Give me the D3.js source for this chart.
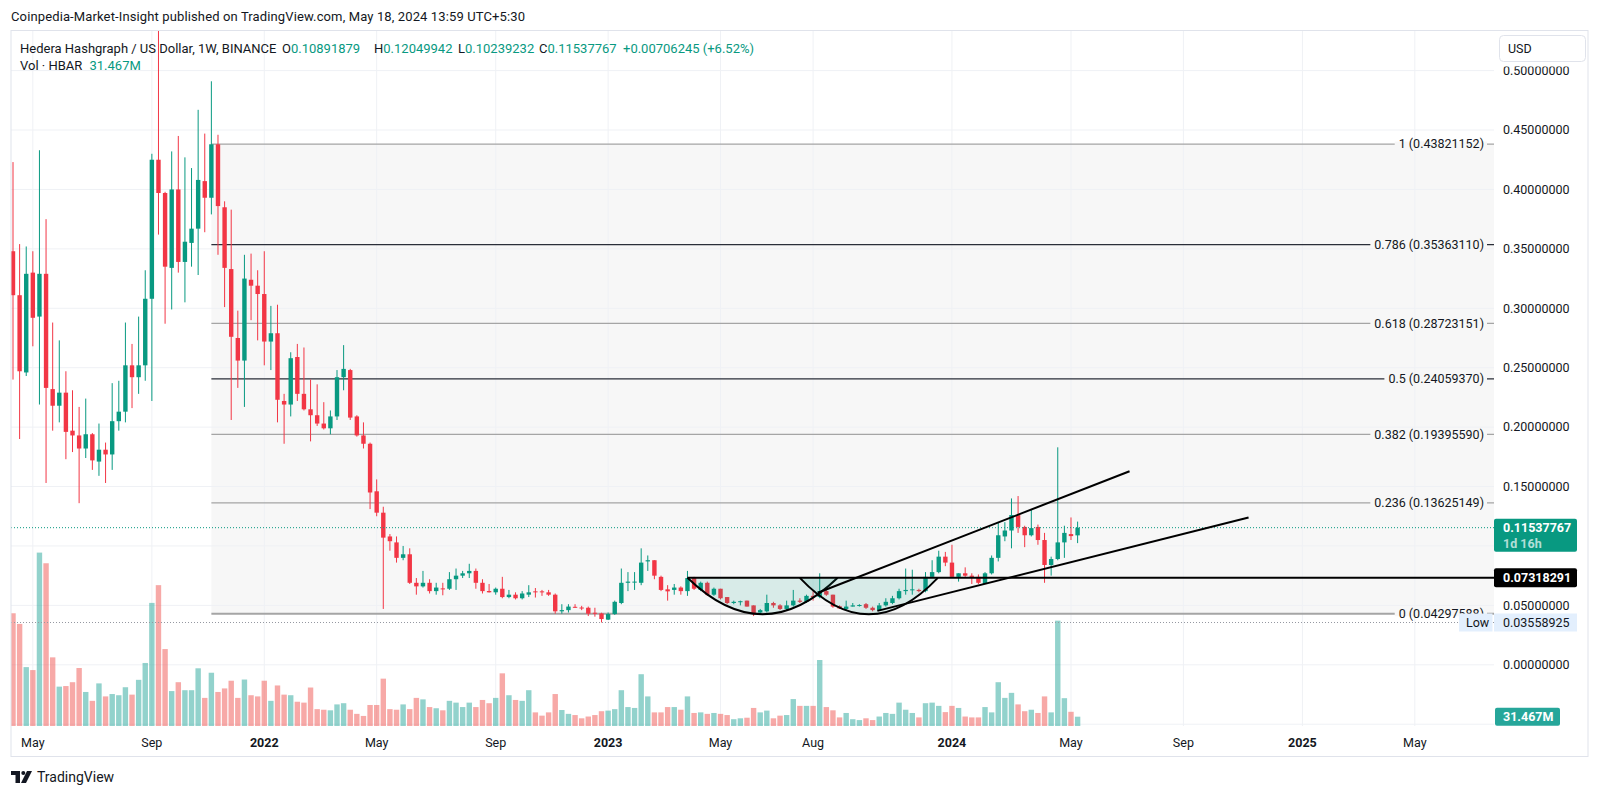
<!DOCTYPE html>
<html lang="en">
  <head>
    <meta charset="UTF-8" />
    <title>HBAR / USD 1W</title>
    <script src="https://cdn.jsdelivr.net/npm/d3@7/dist/d3.min.js"></script>
    <style>
      body { margin: 0; background: #fff; }
      svg { display: block; font-family: Roboto, "Noto Sans", sans-serif; }
    </style>
  </head>
  <body>
    <svg id="chart" width="1600" height="796"></svg>
    <script>
      // weekly bars, first one opens week of 2021-04-12, last one week of 2024-05-13
      const firstWeek = "2021-04-12";
      const lastWeek = "2024-05-13";

      const open = [
        0.348, 0.311, 0.246, 0.330, 0.293, 0.329, 0.232, 0.218, 0.229, 0.197,
        0.193, 0.182, 0.194, 0.171, 0.181, 0.177, 0.205, 0.213, 0.252, 0.242,
        0.252, 0.308, 0.425, 0.397, 0.334, 0.400, 0.339, 0.355, 0.367, 0.407,
        0.393, 0.438, 0.385, 0.333, 0.275, 0.256, 0.324, 0.319, 0.312, 0.272,
        0.279, 0.222, 0.219, 0.259, 0.228, 0.215, 0.210, 0.203, 0.199, 0.209,
        0.242, 0.248, 0.209, 0.193, 0.186, 0.146, 0.128, 0.108, 0.103, 0.090,
        0.093, 0.069, 0.066, 0.069, 0.062, 0.0643, 0.064, 0.072, 0.075, 0.077,
        0.079, 0.069, 0.0621, 0.061, 0.064, 0.057, 0.059, 0.056, 0.059, 0.0618,
        0.0618, 0.061, 0.059, 0.045, 0.046, 0.0488, 0.0482, 0.048, 0.0438, 0.0432,
        0.0380, 0.0427, 0.052, 0.069, 0.0695, 0.069, 0.087, 0.088, 0.074, 0.0635,
        0.063, 0.065, 0.062, 0.073, 0.063, 0.069, 0.059, 0.064, 0.057, 0.052,
        0.053, 0.054, 0.050, 0.044, 0.045, 0.052, 0.050, 0.047, 0.050, 0.054,
        0.053, 0.058, 0.057, 0.062, 0.059, 0.0493, 0.047, 0.049, 0.0500, 0.051,
        0.048, 0.046, 0.050, 0.052, 0.056, 0.062, 0.063, 0.063, 0.062, 0.074,
        0.078, 0.091, 0.086, 0.074, 0.077, 0.075, 0.074, 0.068, 0.077, 0.090,
        0.108, 0.113, 0.126, 0.116, 0.109, 0.116, 0.105, 0.084, 0.089, 0.103,
        0.110, 0.10891879
      ];
      const high = [
        0.423, 0.354, 0.352, 0.348, 0.433, 0.375, 0.288, 0.273, 0.247, 0.231,
        0.217, 0.224, 0.195, 0.203, 0.187, 0.237, 0.239, 0.288, 0.270, 0.293,
        0.332, 0.430, 0.570, 0.398, 0.432, 0.445, 0.427, 0.418, 0.467, 0.447,
        0.491, 0.446, 0.390, 0.383, 0.298, 0.345, 0.346, 0.332, 0.348, 0.302,
        0.303, 0.228, 0.263, 0.270, 0.267, 0.240, 0.236, 0.221, 0.214, 0.248,
        0.269, 0.249, 0.210, 0.204, 0.187, 0.156, 0.133, 0.110, 0.108, 0.100,
        0.098, 0.073, 0.079, 0.072, 0.069, 0.069, 0.078, 0.081, 0.079, 0.085,
        0.081, 0.072, 0.068, 0.065, 0.074, 0.063, 0.061, 0.062, 0.067, 0.0646,
        0.063, 0.063, 0.060, 0.051, 0.051, 0.051, 0.0496, 0.049, 0.048, 0.0438,
        0.044, 0.054, 0.081, 0.078, 0.078, 0.098, 0.092, 0.088, 0.075, 0.067,
        0.068, 0.066, 0.079, 0.074, 0.070, 0.070, 0.065, 0.064, 0.057, 0.054,
        0.054, 0.054, 0.050, 0.047, 0.059, 0.053, 0.051, 0.054, 0.063, 0.056,
        0.059, 0.062, 0.077, 0.065, 0.059, 0.050, 0.054, 0.052, 0.051, 0.052,
        0.049, 0.052, 0.056, 0.058, 0.064, 0.081, 0.080, 0.064, 0.078, 0.088,
        0.096, 0.095, 0.101, 0.077, 0.082, 0.077, 0.076, 0.078, 0.092, 0.120,
        0.120, 0.140, 0.142, 0.117, 0.131, 0.118, 0.111, 0.091, 0.183, 0.117,
        0.124, 0.12049942
      ];
      const low = [
        0.240, 0.190, 0.243, 0.268, 0.219, 0.153, 0.197, 0.204, 0.173, 0.179,
        0.136, 0.174, 0.164, 0.159, 0.153, 0.164, 0.197, 0.204, 0.216, 0.228,
        0.239, 0.222, 0.362, 0.287, 0.299, 0.330, 0.305, 0.335, 0.328, 0.364,
        0.379, 0.345, 0.301, 0.206, 0.233, 0.217, 0.290, 0.273, 0.252, 0.248,
        0.204, 0.186, 0.209, 0.222, 0.214, 0.188, 0.201, 0.198, 0.194, 0.206,
        0.231, 0.206, 0.192, 0.182, 0.131, 0.125, 0.047, 0.096, 0.086, 0.088,
        0.068, 0.059, 0.065, 0.060, 0.059, 0.0585, 0.063, 0.063, 0.073, 0.073,
        0.064, 0.060, 0.0608, 0.059, 0.056, 0.056, 0.055, 0.055, 0.057, 0.0566,
        0.058, 0.058, 0.043, 0.043, 0.044, 0.048, 0.046, 0.041, 0.0405, 0.0356,
        0.0377, 0.042, 0.051, 0.062, 0.063, 0.067, 0.079, 0.072, 0.062, 0.054,
        0.059, 0.059, 0.058, 0.063, 0.062, 0.058, 0.058, 0.055, 0.051, 0.051,
        0.050, 0.049, 0.041, 0.043, 0.044, 0.048, 0.046, 0.046, 0.049, 0.052,
        0.052, 0.054, 0.056, 0.058, 0.048, 0.047, 0.046, 0.049, 0.049, 0.047,
        0.045, 0.046, 0.049, 0.051, 0.055, 0.059, 0.059, 0.061, 0.061, 0.074,
        0.077, 0.083, 0.074, 0.070, 0.074, 0.068, 0.068, 0.068, 0.076, 0.087,
        0.104, 0.098, 0.111, 0.099, 0.108, 0.101, 0.069, 0.075, 0.088, 0.090,
        0.105, 0.10239232
      ];
      const close = [
        0.311, 0.247, 0.329, 0.292, 0.329, 0.233, 0.218, 0.229, 0.196, 0.193,
        0.182, 0.194, 0.172, 0.181, 0.177, 0.205, 0.213, 0.252, 0.242, 0.252,
        0.308, 0.425, 0.397, 0.335, 0.400, 0.339, 0.356, 0.367, 0.408, 0.393,
        0.438, 0.386, 0.334, 0.276, 0.256, 0.325, 0.319, 0.312, 0.272, 0.279,
        0.223, 0.219, 0.258, 0.228, 0.215, 0.210, 0.203, 0.199, 0.209, 0.242,
        0.249, 0.208, 0.193, 0.186, 0.145, 0.128, 0.107, 0.104, 0.090, 0.093,
        0.069, 0.066, 0.069, 0.062, 0.065, 0.0636, 0.072, 0.075, 0.077, 0.079,
        0.069, 0.062, 0.0610, 0.064, 0.057, 0.059, 0.056, 0.060, 0.061, 0.0613,
        0.0610, 0.059, 0.045, 0.046, 0.049, 0.0480, 0.0474, 0.043, 0.0432, 0.0385,
        0.0427, 0.053, 0.069, 0.070, 0.0700, 0.086, 0.088, 0.075, 0.063, 0.0618,
        0.065, 0.062, 0.073, 0.064, 0.069, 0.059, 0.064, 0.056, 0.052, 0.053,
        0.0535, 0.049, 0.043, 0.046, 0.052, 0.050, 0.047, 0.050, 0.054, 0.053,
        0.058, 0.057, 0.062, 0.059, 0.049, 0.0474, 0.049, 0.050, 0.0503, 0.048,
        0.046, 0.050, 0.053, 0.056, 0.062, 0.063, 0.0635, 0.062, 0.074, 0.078,
        0.091, 0.086, 0.074, 0.077, 0.075, 0.074, 0.069, 0.077, 0.090, 0.109,
        0.113, 0.126, 0.116, 0.109, 0.115, 0.105, 0.084, 0.089, 0.103, 0.111,
        0.1083, 0.11537767
      ];
      // volume in millions of HBAR
      const volume = [
        381, 345, 199, 189, 586, 550, 232, 133, 135, 148,
        196, 115, 85, 144, 100, 108, 104, 131, 106, 156,
        213, 416, 476, 260, 118, 148, 121, 121, 195, 95,
        180, 115, 127, 153, 95, 157, 104, 100, 153, 85,
        137, 106, 104, 82, 79, 130, 57, 55, 53, 73,
        77, 55, 41, 34, 71, 71, 160, 57, 55, 73,
        57, 95, 90, 64, 60, 53, 85, 79, 64, 79,
        64, 88, 77, 95, 178, 104, 88, 85, 121, 46,
        35, 46, 108, 54, 41, 37, 26, 32, 37, 50,
        52, 57, 121, 64, 61, 175, 100, 46, 46, 64,
        64, 55, 100, 44, 46, 41, 44, 41, 37, 23,
        26, 28, 61, 46, 52, 26, 35, 37, 91, 68,
        68, 68, 223, 64, 53, 29, 44, 23, 20, 26,
        20, 32, 44, 41, 79, 55, 44, 29, 77, 79,
        68, 47, 68, 61, 32, 29, 29, 64, 46, 148,
        95, 112, 73, 50, 55, 44, 100, 46, 356, 94,
        48, 31.467
      ];

      const tickDates = [
        "2021-05-03", "2021-09-06", "2022-01-03", "2022-05-02", "2022-09-05", "2023-01-02",
        "2023-05-01", "2023-08-07", "2024-01-01", "2024-05-06", "2024-09-02", "2025-01-06", "2025-05-05"
      ];
      const tickLabels = ["May", "Sep", "2022", "May", "Sep", "2023", "May", "Aug", "2024", "May", "Sep", "2025", "May"];
      // grid levels; the axis prints all but the ones hidden under the price tags
      const priceTicks = [0.5, 0.45, 0.4, 0.35, 0.3, 0.25, 0.2, 0.15, 0.1, 0.05, 0, -0.05];
      const hiddenTicks = [0.1, -0.05];

      const fibStart = "2021-11-08";
      const fibRatios = [1, 0.786, 0.618, 0.5, 0.382, 0.236, 0];
      const fibPrices = [0.43821152, 0.3536311, 0.28723151, 0.2405937, 0.1939559, 0.13625149, 0.04297588];

      const levelStart = "2023-03-27";
      const levelPrice = 0.07318291;
      const cupStarts = ["2023-03-27", "2023-07-24"];
      const cupEnds = ["2023-09-02", "2023-12-17"];
      const cupBottoms = [0.0425, 0.0425];
      const upperLine = [["2023-08-12", 0.0606], ["2024-07-07", 0.1629]];
      const lowerLine = [["2023-10-14", 0.0454], ["2024-11-10", 0.1239]];

      const lastPrice = 0.11537767;
      const lowPrice = 0.03558925;
      const lastVolume = 31.467;

      // ---------- layout ----------
      const W = 1600, H = 796;
      const plotL = 11, plotR = 1494, plotT = 30.5, plotB = 726;
      const axisR = 1588, frameB = 756.5;
      const green = "#089981", red = "#f23645", ink = "#131722";
      const shade = "#f7f7f7";

      const parse = d3.utcParse("%Y-%m-%d");
      const weeks = d3.utcMonday.range(parse(firstWeek), d3.utcDay.offset(parse(lastWeek), 1));
      const bars = weeks.map((d, i) => ({
        date: d, o: open[i], h: high[i], l: low[i], c: close[i], v: volume[i], up: close[i] >= open[i]
      }));

      const x = d3.scaleUtc().domain([weeks[0], weeks[weeks.length - 1]]).range([13, 1077.6]);
      const y = d3.scaleLinear().domain([0, 0.5]).range([664.8, 70.6]);
      const yVol = d3.scaleLinear().domain([0, d3.max(volume)]).range([plotB, 552.6]);
      const xd = s => x(parse(s));

      const svg = d3.select("#chart");
      svg.append("rect").attr("width", W).attr("height", H).attr("fill", "#fff");

      const defs = svg.append("defs");
      defs.append("clipPath").attr("id", "plotClip").append("rect")
        .attr("x", plotL).attr("y", plotT).attr("width", plotR - plotL).attr("height", plotB - plotT);
      defs.append("clipPath").attr("id", "axisClip").append("rect")
        .attr("x", plotR).attr("y", 66.5).attr("width", axisR - plotR).attr("height", plotB - 66.5);

      const plot = svg.append("g").attr("clip-path", "url(#plotClip)");

      // fib background
      const fibX0 = xd(fibStart);
      plot.append("rect")
        .attr("x", fibX0).attr("y", y(fibPrices[0]))
        .attr("width", plotR - fibX0)
        .attr("height", y(fibPrices[fibPrices.length - 1]) - y(fibPrices[0]))
        .attr("fill", shade);

      // grid
      plot.selectAll(".hgrid").data(priceTicks).join("line").attr("class", "hgrid")
        .attr("x1", plotL).attr("x2", plotR)
        .attr("y1", d => y(d)).attr("y2", d => y(d))
        .attr("stroke", "#eff1f5");
      plot.selectAll(".vgrid").data(tickDates).join("line").attr("class", "vgrid")
        .attr("x1", d => xd(d)).attr("x2", d => xd(d))
        .attr("y1", plotT).attr("y2", plotB)
        .attr("stroke", "#eff1f5");

      // volume
      plot.selectAll(".vol").data(bars).join("rect").attr("class", "vol")
        .attr("x", d => x(d.date) - 2.7).attr("width", 5.4)
        .attr("y", d => yVol(d.v)).attr("height", d => plotB - yVol(d.v))
        .attr("fill", d => d.up ? "rgba(38,166,154,0.5)" : "rgba(239,83,80,0.5)");

      // fib lines
      plot.selectAll(".fib").data(fibPrices).join("line").attr("class", "fib")
        .attr("x1", fibX0).attr("x2", plotR)
        .attr("y1", d => y(d)).attr("y2", d => y(d))
        .attr("stroke", (d, i) => (fibRatios[i] === 0.786 || fibRatios[i] === 0.5) ? "#2a2e39" : "#a5a5a5")
        .attr("stroke-width", (d, i) => fibRatios[i] === 0 ? 1.8 : 1.3);

      // candles
      plot.selectAll(".wick").data(bars).join("line").attr("class", "wick")
        .attr("x1", d => x(d.date)).attr("x2", d => x(d.date))
        .attr("y1", d => y(d.h)).attr("y2", d => y(d.l))
        .attr("stroke", d => d.up ? green : red).attr("stroke-width", 1);
      plot.selectAll(".body").data(bars).join("rect").attr("class", "body")
        .attr("x", d => x(d.date) - 2.2).attr("width", 4.4)
        .attr("y", d => y(Math.max(d.o, d.c)))
        .attr("height", d => Math.max(1, Math.abs(y(d.o) - y(d.c))))
        .attr("fill", d => d.up ? green : red);

      // price lines
      plot.append("line")
        .attr("x1", plotL).attr("x2", plotR).attr("y1", y(lastPrice)).attr("y2", y(lastPrice))
        .attr("stroke", green).attr("stroke-dasharray", "1 2");
      plot.append("line")
        .attr("x1", plotL).attr("x2", plotR).attr("y1", y(lowPrice)).attr("y2", y(lowPrice))
        .attr("stroke", "#9598a1").attr("stroke-dasharray", "1 2");

      // cups
      const cupD = (i, closed) => {
        const x0 = xd(cupStarts[i]), x1 = xd(cupEnds[i]);
        const yt = y(levelPrice), yb = y(cupBottoms[i]);
        return `M${x0},${yt} Q${(x0 + x1) / 2},${2 * yb - yt} ${x1},${yt}` + (closed ? "Z" : "");
      };
      cupStarts.forEach((s, i) => {
        plot.append("path").attr("d", cupD(i, true)).attr("fill", "rgba(8,153,129,0.13)");
        plot.append("path").attr("d", cupD(i, false)).attr("fill", "none")
          .attr("stroke", "#000").attr("stroke-width", 2);
      });

      // level + trend lines
      plot.append("line")
        .attr("x1", xd(levelStart)).attr("x2", plotR)
        .attr("y1", y(levelPrice)).attr("y2", y(levelPrice))
        .attr("stroke", "#000").attr("stroke-width", 2);
      [upperLine, lowerLine].forEach(ln => {
        plot.append("line")
          .attr("x1", xd(ln[0][0])).attr("y1", y(ln[0][1]))
          .attr("x2", xd(ln[1][0])).attr("y2", y(ln[1][1]))
          .attr("stroke", "#000").attr("stroke-width", 2);
      });

      // fib labels
      const fibLab = plot.append("g");
      fibRatios.forEach((r, i) => {
        const t = fibLab.append("text")
          .attr("x", 1484).attr("y", y(fibPrices[i])).attr("dy", "0.35em")
          .attr("text-anchor", "end").attr("font-size", 12.5).attr("fill", ink)
          .text(`${r} (${fibPrices[i].toFixed(8)})`);
        const b = t.node().getBBox();
        fibLab.insert("rect", () => t.node())
          .attr("x", b.x - 4).attr("y", y(fibPrices[i]) - 2.5)
          .attr("width", 1487 - (b.x - 4)).attr("height", 5)
          .attr("fill", shade);
      });

      // ---------- price axis ----------
      svg.append("rect").attr("x", plotR).attr("y", plotT)
        .attr("width", axisR - plotR).attr("height", plotB - plotT).attr("fill", "#fff");
      svg.append("g").attr("clip-path", "url(#axisClip)")
        .selectAll("text").data(priceTicks.filter(d => !hiddenTicks.includes(d))).join("text")
        .attr("x", 1503).attr("y", d => y(d)).attr("dy", "0.35em")
        .attr("font-size", 12.5).attr("fill", ink)
        .text(d => d3.format(".8f")(d));

      // last price label
      const yl = y(lastPrice);
      svg.append("rect").attr("x", plotR).attr("y", yl - 9).attr("width", 83).attr("height", 33)
        .attr("rx", 2).attr("fill", green);
      svg.append("text").attr("x", 1503).attr("y", yl).attr("dy", "0.35em")
        .attr("font-size", 12.5).attr("font-weight", 700).attr("fill", "#fff").text("0.11537767");
      svg.append("text").attr("x", 1503).attr("y", yl + 15.5).attr("dy", "0.35em")
        .attr("font-size", 12.5).attr("font-weight", 700).attr("fill", "rgba(255,255,255,0.7)").text("1d 16h");

      // level label
      const ylv = y(levelPrice);
      svg.append("rect").attr("x", plotR).attr("y", ylv - 9.5).attr("width", 83).attr("height", 19)
        .attr("rx", 2).attr("fill", "#000");
      svg.append("text").attr("x", 1503).attr("y", ylv).attr("dy", "0.35em")
        .attr("font-size", 12.5).attr("font-weight", 700).attr("fill", "#fff")
        .text(levelPrice.toFixed(8));

      // low label
      const ylo = y(lowPrice);
      svg.append("rect").attr("x", 1459).attr("y", ylo - 9).attr("width", 33.5).attr("height", 18).attr("fill", "#e3effd");
      svg.append("rect").attr("x", plotR).attr("y", ylo - 9).attr("width", 83).attr("height", 18).attr("fill", "#e3effd");
      svg.append("text").attr("x", 1466).attr("y", ylo).attr("dy", "0.35em")
        .attr("font-size", 12.5).attr("fill", ink).text("Low");
      svg.append("text").attr("x", 1503).attr("y", ylo).attr("dy", "0.35em")
        .attr("font-size", 12.5).attr("fill", ink).text(lowPrice.toFixed(8));

      // volume label
      const yv = yVol(lastVolume);
      svg.append("rect").attr("x", plotR + 1).attr("y", yv - 9).attr("width", 65).attr("height", 18)
        .attr("rx", 2).attr("fill", "#26a69a");
      svg.append("text").attr("x", 1503).attr("y", yv).attr("dy", "0.35em")
        .attr("font-size", 12.5).attr("font-weight", 700).attr("fill", "#fff").text("31.467M");

      // USD button
      svg.append("rect").attr("x", 1499.5).attr("y", 35.5).attr("width", 86).attr("height", 26)
        .attr("rx", 4).attr("fill", "#fff").attr("stroke", "#e0e3eb");
      svg.append("text").attr("x", 1508).attr("y", 48.5).attr("dy", "0.35em")
        .attr("font-size", 12.5).attr("fill", ink).text("USD");

      // frame
      svg.append("rect").attr("x", plotL).attr("y", plotT)
        .attr("width", axisR - plotL).attr("height", frameB - plotT)
        .attr("fill", "none").attr("stroke", "#e0e3eb");

      // time axis
      svg.selectAll(".tlab").data(tickDates).join("text").attr("class", "tlab")
        .attr("x", d => xd(d)).attr("y", 742.3).attr("dy", "0.35em")
        .attr("text-anchor", "middle").attr("font-size", 12.5).attr("fill", ink)
        .attr("font-weight", (d, i) => /^\d{4}$/.test(tickLabels[i]) ? 700 : 400)
        .text((d, i) => tickLabels[i]);

      // header + legend
      svg.append("text").attr("x", 11).attr("y", 16.7).attr("dy", "0.35em")
        .attr("font-size", 13).attr("fill", ink)
        .attr("textLength", 514).attr("lengthAdjust", "spacing")
        .text("Coinpedia-Market-Insight published on TradingView.com, May 18, 2024 13:59 UTC+5:30");

      const legend = svg.append("g").attr("font-size", 13);
      legend.append("text").attr("x", 20).attr("y", 48.3).attr("dy", "0.35em").attr("fill", ink)
        .text("Hedera Hashgraph / US Dollar, 1W, BINANCE");
      const ohlc = [["O", "0.10891879", 282], ["H", "0.12049942", 374], ["L", "0.10239232", 458], ["C", "0.11537767", 539]];
      ohlc.forEach(([k, v, px]) => {
        const t = legend.append("text").attr("x", px).attr("y", 48.3).attr("dy", "0.35em");
        t.append("tspan").attr("fill", ink).text(k);
        t.append("tspan").attr("fill", green).text(v);
      });
      legend.append("text").attr("x", 623).attr("y", 48.3).attr("dy", "0.35em").attr("fill", green)
        .text("+0.00706245 (+6.52%)");
      const vl = legend.append("text").attr("x", 20).attr("y", 65.7).attr("dy", "0.35em");
      vl.append("tspan").attr("fill", ink).text("Vol · HBAR ");
      vl.append("tspan").attr("fill", green).attr("dx", 4).text("31.467M");

      // TradingView logo
      const logo = svg.append("g").attr("fill", ink);
      logo.append("rect").attr("x", 11).attr("y", 771).attr("width", 9).attr("height", 4);
      logo.append("rect").attr("x", 15.5).attr("y", 771).attr("width", 4.5).attr("height", 12);
      logo.append("circle").attr("cx", 23.3).attr("cy", 773).attr("r", 2);
      logo.append("polygon").attr("points", "21,783 27,771 32,771 26,783");
      svg.append("text").attr("x", 37).attr("y", 777).attr("dy", "0.35em")
        .attr("font-size", 14).attr("fill", ink).text("TradingView");
    </script>
  </body>
</html>
